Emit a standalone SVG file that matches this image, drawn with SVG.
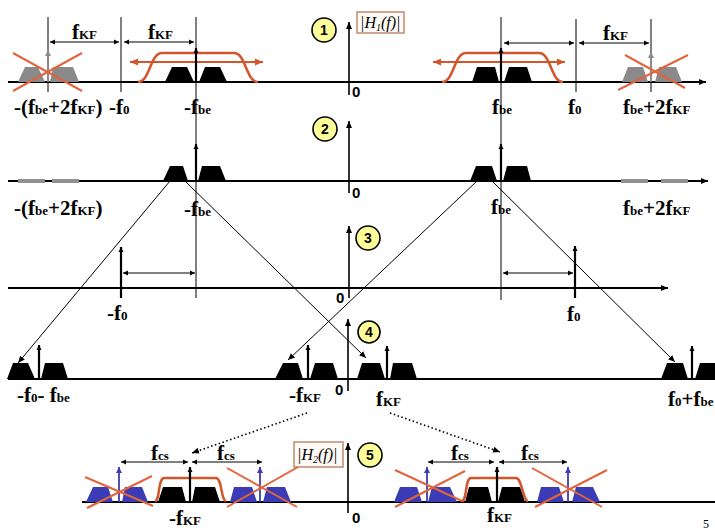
<svg xmlns="http://www.w3.org/2000/svg" width="715" height="531" viewBox="0 0 715 531">
<defs>
<marker id="ah" markerWidth="8" markerHeight="8" refX="7" refY="4" orient="auto-start-reverse" markerUnits="userSpaceOnUse"><path d="M0,1 L7,4 L0,7 Z" fill="#000"/></marker>
<marker id="ahs" markerWidth="6" markerHeight="6" refX="5" refY="3" orient="auto-start-reverse" markerUnits="userSpaceOnUse"><path d="M0,0.5 L5,3 L0,5.5 Z" fill="#000"/></marker>
<marker id="aho" markerWidth="9" markerHeight="8" refX="8" refY="4" orient="auto-start-reverse" markerUnits="userSpaceOnUse"><path d="M0,0.5 L8,4 L0,7.5 Z" fill="#d4552a"/></marker>
<marker id="ahg" markerWidth="7" markerHeight="7" refX="6" refY="3.5" orient="auto" markerUnits="userSpaceOnUse"><path d="M0,0.5 L6,3.5 L0,6.5 Z" fill="#8a8a8a"/></marker>
<marker id="ahb" markerWidth="7" markerHeight="7" refX="6" refY="3.5" orient="auto" markerUnits="userSpaceOnUse"><path d="M0,0.5 L6,3.5 L0,6.5 Z" fill="#3b3bb5"/></marker>
</defs>
<style>
.ax{stroke:#000;stroke-width:2;fill:none}
.vax{stroke:#000;stroke-width:1.6;fill:none}
.thin{stroke:#000;stroke-width:1;fill:none}
.dim{stroke:#000;stroke-width:1;fill:none;marker-start:url(#ahs);marker-end:url(#ahs)}
.imp{stroke:#000;stroke-width:2.2;fill:none;marker-end:url(#ahs)}
.impg{stroke:#8a8a8a;stroke-width:2;fill:none;marker-end:url(#ahg)}
.impb{stroke:#3b3bb5;stroke-width:1.8;fill:none;marker-end:url(#ahb)}
.tb{fill:#000}
.tg{fill:#8a8a8a}
.tbl{fill:#3b3bb5}
.flt{stroke:#d4552a;stroke-width:2.5;fill:none}
.fa{stroke:#d4552a;stroke-width:2;fill:none;marker-start:url(#aho);marker-end:url(#aho)}
.x{stroke:#e0643c;stroke-width:2;fill:none}
.gbar{fill:#909090}
.circ{fill:#ffff99;stroke:#000;stroke-width:1.6}
.cn{font-family:"Liberation Sans",Arial,sans-serif;font-weight:bold;font-size:14px;text-anchor:middle}
.lbl{font-family:"Liberation Serif","Times New Roman",serif;font-weight:bold;font-size:21px;fill:#000}
.sm{font-size:13px}
.zero{font-family:"Liberation Sans",Arial,sans-serif;font-weight:bold;font-size:15px}
.hbox{fill:#fffaf5;stroke:#c08a70;stroke-width:1.5}
.ht{font-family:"Liberation Serif","Times New Roman",serif;font-style:italic;font-size:16px}
.conn{stroke:#000;stroke-width:1;fill:none;marker-end:url(#ah)}
.dot{stroke:#000;stroke-width:1.6;stroke-dasharray:1.5 2.5;fill:none;marker-end:url(#ah)}
</style>
<rect width="715" height="531" fill="#fff"/>

<!-- long vertical guides -->
<g id="guides">
<line class="thin" x1="48" y1="17" x2="48" y2="92"/>
<line class="thin" x1="121" y1="17" x2="121" y2="92"/>
<line class="thin" x1="196" y1="17" x2="196" y2="298"/>
<line class="thin" x1="501" y1="17" x2="501" y2="300"/>
<line class="thin" x1="576" y1="19" x2="576" y2="92"/>
<line class="thin" x1="651" y1="19" x2="651" y2="92"/>
</g>

<!-- ROW 1 -->
<g id="row1">
<line class="ax" x1="8" y1="82" x2="706" y2="82" marker-end="url(#ah)"/>
<line class="vax" x1="349" y1="95" x2="349" y2="22" marker-end="url(#ah)"/>
<text class="zero" x="352" y="97">0</text>
<g id="c1"><circle class="circ" cx="324" cy="30" r="12"/><text class="cn" x="324" y="35">1</text></g>
<g id="h1"><rect class="hbox" x="357" y="12" width="47" height="21"/><text class="ht" x="360" y="28">|H<tspan font-size="10" dy="3">1</tspan><tspan dy="-3">(f)|</tspan></text></g>
<line class="dim" x1="50" y1="42" x2="119" y2="42"/>
<line class="dim" x1="124" y1="42" x2="194" y2="42"/>
<line class="dim" x1="504" y1="43" x2="574" y2="43"/>
<line class="dim" x1="579" y1="43" x2="649" y2="43"/>
<text class="lbl" x="72" y="39">f<tspan class="sm">KF</tspan></text>
<text class="lbl" x="148" y="39">f<tspan class="sm">KF</tspan></text>
<text class="lbl" x="603" y="40" font-size="18">f<tspan class="sm">KF</tspan></text>
<g id="r1-gray-left">
<polygon class="tg" points="18,82 25,67 38,67 45,82"/>
<polygon class="tg" points="50,82 53,67 73,67 79,82"/>
<line class="impg" x1="48" y1="82" x2="48" y2="50"/>
<line class="x" x1="13" y1="53" x2="82" y2="91"/>
<line class="x" x1="13" y1="91" x2="82" y2="53"/>
</g>
<g id="r1-sig-left">
<path class="flt" d="M138,82 C150,82 150,53 162,53 L234,53 C246,53 246,82 258,82"/>
<line class="fa" x1="130" y1="62" x2="263" y2="62"/>
<polygon class="tb" points="165,82 172,67 187,67 194,82"/>
<polygon class="tb" points="199,82 205,67 220,67 227,82"/>
<line class="imp" x1="196" y1="82" x2="196" y2="48"/>
</g>
<g id="r1-sig-right">
<path class="flt" d="M442,82 C454,82 454,53 466,53 L539,53 C551,53 551,82 563,82"/>
<line class="fa" x1="433" y1="62" x2="565" y2="62"/>
<polygon class="tb" points="472,82 477,67 495,67 499,82"/>
<polygon class="tb" points="504,82 509,67 527,67 532,82"/>
<line class="imp" x1="501" y1="82" x2="501" y2="48"/>
</g>
<g id="r1-gray-right">
<polygon class="tg" points="622,82 628,67 643,67 648,82"/>
<polygon class="tg" points="655,82 659,67 676,67 682,82"/>
<line class="impg" x1="651" y1="82" x2="651" y2="52"/>
<line class="x" x1="618" y1="90" x2="688" y2="55"/>
<line class="x" x1="625" y1="55" x2="685" y2="88"/>
</g>
<text class="lbl" x="14" y="114">-(f<tspan class="sm">be</tspan>+2f<tspan class="sm">KF</tspan>)</text>
<text class="lbl" x="109" y="114">-f<tspan class="sm">0</tspan></text>
<text class="lbl" x="184" y="114">-f<tspan class="sm">be</tspan></text>
<text class="lbl" x="492" y="114">f<tspan class="sm">be</tspan></text>
<text class="lbl" x="568" y="114">f<tspan class="sm">0</tspan></text>
<text class="lbl" x="623" y="114">f<tspan class="sm">be</tspan>+2f<tspan class="sm">KF</tspan></text>
</g>

<!-- ROW 2 -->
<g id="row2">
<line class="ax" x1="8" y1="181" x2="708" y2="181" marker-end="url(#ah)"/>
<line class="vax" x1="349" y1="193" x2="349" y2="121" marker-end="url(#ah)"/>
<text class="zero" x="352" y="198">0</text>
<g id="c2"><circle class="circ" cx="325" cy="129" r="12"/><text class="cn" x="325" y="134">2</text></g>
<rect class="gbar" x="18" y="179" width="27" height="4"/>
<rect class="gbar" x="52" y="179" width="27" height="4"/>
<rect class="gbar" x="621" y="179" width="27" height="4"/>
<rect class="gbar" x="661" y="179" width="27" height="4"/>
<polygon class="tb" points="163,181 170,166 183,166 188,181"/>
<polygon class="tb" points="198,181 202,166 220,166 226,181"/>
<line class="imp" x1="196" y1="181" x2="196" y2="144"/>
<polygon class="tb" points="470,181 476,166 492,166 497,181"/>
<polygon class="tb" points="503,181 507,166 527,166 531,181"/>
<line class="imp" x1="501" y1="181" x2="501" y2="144"/>
<text class="lbl" x="14" y="215">-(f<tspan class="sm">be</tspan>+2f<tspan class="sm">KF</tspan>)</text>
<text class="lbl" x="184" y="216">-f<tspan class="sm">be</tspan></text>
<text class="lbl" x="491" y="214">f<tspan class="sm">be</tspan></text>
<text class="lbl" x="623" y="215">f<tspan class="sm">be</tspan>+2f<tspan class="sm">KF</tspan></text>
</g>

<!-- ROW 3 -->
<g id="row3">
<line class="ax" x1="8" y1="288" x2="668" y2="288" marker-end="url(#ah)"/>
<line class="vax" x1="349" y1="298" x2="349" y2="226" marker-end="url(#ah)"/>
<text class="zero" x="336" y="303">0</text>
<g id="c3"><circle class="circ" cx="368" cy="238" r="12"/><text class="cn" x="368" y="243">3</text></g>
<line class="imp" x1="121" y1="298" x2="121" y2="247"/>
<line class="imp" x1="575" y1="298" x2="575" y2="246"/>
<line class="dim" x1="123" y1="273" x2="195" y2="273"/>
<line class="dim" x1="503" y1="273" x2="573" y2="273"/>
<text class="lbl" x="107" y="320">-f<tspan class="sm">0</tspan></text>
<text class="lbl" x="567" y="321">f<tspan class="sm">0</tspan></text>
</g>

<!-- ROW 4 -->
<g id="row4">
<line class="ax" x1="8" y1="379" x2="715" y2="379"/>
<line class="vax" x1="348" y1="391" x2="348" y2="319" marker-end="url(#ah)"/>
<text class="zero" x="335" y="395">0</text>
<g id="c4"><circle class="circ" cx="369" cy="332" r="11"/><text class="cn" x="369" y="337">4</text></g>
<polygon class="tb" points="7,379 13,363 28,363 35,379"/>
<polygon class="tb" points="41,379 45,363 63,363 68,379"/>
<line class="imp" x1="39" y1="379" x2="39" y2="345"/>
<polygon class="tb" points="275,379 283,363 298,363 303,379"/>
<polygon class="tb" points="310,379 315,363 333,363 338,379"/>
<line class="imp" x1="308" y1="379" x2="308" y2="345"/>
<polygon class="tb" points="357,379 362,363 380,363 385,379"/>
<polygon class="tb" points="390,379 393,363 412,363 417,379"/>
<line class="imp" x1="387" y1="379" x2="387" y2="346"/>
<polygon class="tb" points="661,379 667,363 683,363 688,379"/>
<polygon class="tb" points="695,379 700,363 715,363 720,379"/>
<line class="imp" x1="692" y1="379" x2="692" y2="346"/>
<text class="lbl" x="17" y="402">-f<tspan class="sm">0</tspan>- f<tspan class="sm">be</tspan></text>
<text class="lbl" x="289" y="402">-f<tspan class="sm">KF</tspan></text>
<text class="lbl" x="376" y="406">f<tspan class="sm">KF</tspan></text>
<text class="lbl" x="668" y="406">f<tspan class="sm">0</tspan>+f<tspan class="sm">be</tspan></text>
</g>

<!-- ROW 5 -->
<g id="row5">
<line class="ax" x1="82" y1="502" x2="715" y2="502"/>
<line class="vax" x1="348" y1="513" x2="348" y2="443" marker-end="url(#ah)"/>
<text class="zero" x="352" y="523">0</text>
<g id="c5"><circle class="circ" cx="370" cy="455" r="12"/><text class="cn" x="370" y="460">5</text></g>
<g id="h2"><rect class="hbox" x="294" y="442" width="49" height="25"/><text class="ht" x="297" y="460">|H<tspan font-size="10" dy="3">2</tspan><tspan dy="-3">(f)|</tspan></text></g>
<g id="r5-left">
<polygon class="tbl" points="86,502 93,487 108,487 113,502"/>
<polygon class="tbl" points="122,502 125,487 142,487 148,502"/>
<line class="impb" x1="119" y1="502" x2="119" y2="467"/>
<line class="x" x1="85" y1="477" x2="153" y2="506"/>
<line class="x" x1="87" y1="508" x2="152" y2="476"/>
<path class="flt" d="M155,501 C160,501 158,478 164,478 L216,478 C222,478 221,501 226,501"/>
<polygon class="tb" points="158,502 163,487 182,487 186,502"/>
<polygon class="tb" points="192,502 195,487 215,487 220,502"/>
<line class="imp" x1="190" y1="502" x2="190" y2="467"/>
<polygon class="tbl" points="230,502 234,487 252,487 257,502"/>
<polygon class="tbl" points="263,502 267,487 285,487 291,502"/>
<line class="impb" x1="260" y1="502" x2="260" y2="467"/>
<line class="x" x1="227" y1="468" x2="297" y2="507"/>
<line class="x" x1="227" y1="507" x2="298" y2="467"/>
<line class="dim" x1="121" y1="462" x2="188" y2="462"/>
<line class="dim" x1="192" y1="462" x2="262" y2="462"/>
<text class="lbl" x="151" y="460" font-size="18">f<tspan class="sm">cs</tspan></text>
<text class="lbl" x="217" y="460" font-size="18">f<tspan class="sm">cs</tspan></text>
<text class="lbl" x="169" y="525" font-size="20">-f<tspan class="sm">KF</tspan></text>
</g>
<g id="r5-right">
<polygon class="tbl" points="394,502 400,487 417,487 422,502"/>
<polygon class="tbl" points="428,502 432,487 450,487 457,502"/>
<line class="impb" x1="427" y1="502" x2="427" y2="467"/>
<line class="x" x1="395" y1="470" x2="462" y2="501"/>
<line class="x" x1="395" y1="507" x2="465" y2="471"/>
<path class="flt" d="M462,501 C467,501 465,478 471,478 L516,478 C522,478 523,501 528,501"/>
<polygon class="tb" points="465,502 469,487 488,487 492,502"/>
<polygon class="tb" points="498,502 502,487 520,487 525,502"/>
<line class="imp" x1="497" y1="502" x2="497" y2="467"/>
<polygon class="tbl" points="537,502 541,487 559,487 564,502"/>
<polygon class="tbl" points="572,502 576,487 593,487 600,502"/>
<line class="impb" x1="568" y1="502" x2="568" y2="467"/>
<line class="x" x1="532" y1="468" x2="602" y2="507"/>
<line class="x" x1="535" y1="507" x2="607" y2="470"/>
<line class="dim" x1="428" y1="462" x2="494" y2="462"/>
<line class="dim" x1="499" y1="462" x2="567" y2="462"/>
<text class="lbl" x="451" y="460" font-size="18">f<tspan class="sm">cs</tspan></text>
<text class="lbl" x="521" y="460" font-size="18">f<tspan class="sm">cs</tspan></text>
<text class="lbl" x="487" y="522">f<tspan class="sm">KF</tspan></text>
</g>
</g>

<!-- connectors -->
<g id="connectors">
<line class="conn" x1="170" y1="181" x2="18" y2="363"/>
<line class="conn" x1="185" y1="181" x2="366" y2="358"/>
<line class="conn" x1="477" y1="181" x2="288" y2="360"/>
<line class="conn" x1="492" y1="181" x2="675" y2="362"/>
<line class="dot" x1="307" y1="413" x2="192" y2="453"/>
<line class="dot" x1="390" y1="413" x2="500" y2="452"/>
</g>

<text x="703" y="528" font-family="Liberation Serif,serif" font-size="12">5</text>
</svg>
